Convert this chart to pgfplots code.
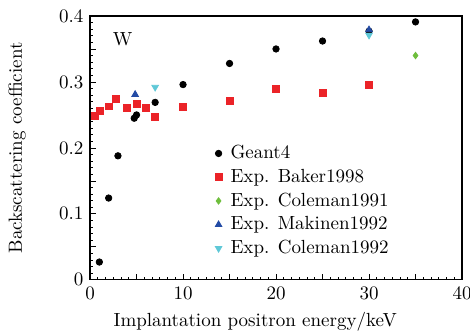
\documentclass[border=0pt]{standalone}
\usepackage{pgfplots}
\pgfplotsset{compat=1.18}
\definecolor{cred}{RGB}{235,35,40}
\definecolor{cgreen}{RGB}{110,190,60}
\definecolor{cblue}{RGB}{35,75,165}
\definecolor{ccyan}{RGB}{95,200,215}
\begin{document}
\begin{tikzpicture}
\begin{axis}[
  name=ax,
  scale only axis,
  width=195.8pt, height=138.9pt,
  xmin=0, xmax=40, ymin=0, ymax=0.4,
  xtick={0,5,...,40}, xticklabels={0,,10,,20,,30,,40},
  ytick={0,0.05,...,0.4}, yticklabels={0,,0.1,,0.2,,0.3,,0.4},
  minor x tick num=5, minor y tick num=4,
  tick align=inside, xtick pos=bottom, ytick pos=left,
  major tick length=3pt, minor tick length=1.7pt,
  axis line style={line width=0.6pt},
  every tick/.style={black, line width=0.4pt},
  xlabel={Implantation positron energy/keV},
  ylabel={Backscattering coefficient},
  xlabel style={at={(axis description cs:0.444,-0.159)}, anchor=center},
  ylabel style={at={(axis description cs:-0.196,0.5)}, anchor=center},
  legend style={at={(axis description cs:0.32,0.54)}, anchor=north west, draw=none, fill=none, row sep=0pt, column sep=2.5pt, font=\normalsize},
  legend cell align=left,
]
\addplot[only marks, mark=*, mark size=1.7pt, black] coordinates {
 (1,0.027) (2,0.124) (3,0.188) (4.75,0.245) (5,0.25) (7,0.269) (10,0.296)
 (15,0.328) (20,0.350) (25,0.362) (30,0.377) (35,0.391)
};
\addlegendentry{Geant4}
\addplot[only marks, mark=square*, mark size=1.8pt, cred, mark options={draw=cred, fill=cred}] coordinates {
 (0.5,0.249) (1.1,0.256) (2,0.263) (2.8,0.274) (4,0.261) (5,0.267) (6,0.261)
 (7,0.247) (10,0.262) (15,0.271) (20,0.290) (25,0.283) (30,0.296)
};
\addlegendentry{Exp. Baker1998}
\addplot[only marks, mark=diamond*, mark size=1.7pt, cgreen, mark options={draw=cgreen, fill=cgreen}] coordinates {
 (35,0.340)
};
\addlegendentry{Exp. Coleman1991}
\addplot[only marks, mark=triangle*, mark size=2pt, cblue, mark options={draw=cblue, fill=cblue}] coordinates {
 (4.85,0.281) (30,0.379)
};
\addlegendentry{Exp. Makinen1992}
\addplot[only marks, mark=triangle*, mark size=2pt, ccyan, mark options={draw=ccyan, fill=ccyan, rotate=180}] coordinates {
 (7,0.292) (30,0.371)
};
\addlegendentry{Exp. Coleman1992}
\node[anchor=center] at (axis cs:3.5,0.365) {W};
\end{axis}
\pgfresetboundingbox
\path (ax.south west) ++(-47.4pt,-27.4pt) coordinate (bl);
\path (ax.north east) ++(4.2pt,8.4pt) coordinate (tr);
\path[use as bounding box] (bl) rectangle (tr);
\end{tikzpicture}
\end{document}
